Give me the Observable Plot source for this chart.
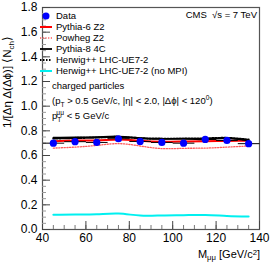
<!DOCTYPE html>
<html><head><meta charset="utf-8">
<script src="https://cdn.jsdelivr.net/npm/d3@7"></script>
<script src="https://cdn.jsdelivr.net/npm/@observablehq/plot@0.6"></script>
<style>
body{margin:0;background:#fff;font-family:"Liberation Sans",Arial,sans-serif;}
#wrap{position:relative;width:271px;height:263px;overflow:hidden;}
.ov{position:absolute;white-space:nowrap;font-size:9.5px;color:#000;line-height:1;}
sub,sup{font-size:70%;line-height:0;}
.lo{font-size:70%;position:relative;top:0.3em;}
.hi{font-size:70%;position:relative;top:-0.45em;}
</style></head>
<body><div id="wrap"></div>
<script>
const mass = [45,55,65,75,85,95,105,115,125,135];
const dataY = [0.700,0.712,0.706,0.736,0.714,0.706,0.700,0.730,0.722,0.696];
const dataErrX = [5,5,5,5,5,5,5,5,5,5];
const pythia6 = [0.716,0.722,0.722,0.730,0.720,0.712,0.714,0.716,0.718,0.720];
const powheg  = [0.660,0.668,0.682,0.696,0.677,0.656,0.658,0.660,0.668,0.677];
const pythia8 = [0.745,0.748,0.750,0.755,0.742,0.735,0.738,0.730,0.740,0.720];
const herwig  = [0.738,0.742,0.746,0.750,0.740,0.736,0.736,0.738,0.742,0.728];
const herwigNoMPI = [0.119,0.121,0.123,0.129,0.113,0.114,0.116,0.117,0.110,0.106];
const xTicks = [40,60,80,100,120,140];
const yTicks = [0,0.2,0.4,0.6,0.8,1,1.2,1.4,1.6,1.8];
const xMinor = d3.range(40,141,5);
const yMinor = d3.range(0,1.801,0.05);

const rows = mass.map((m,i)=>({m, y:dataY[i], ex:dataErrX[i], p6:pythia6[i], pw:powheg[i], p8:pythia8[i], hw:herwig[i], hn:herwigNoMPI[i]}));

const chart = Plot.plot({
  width:271, height:263,
  marginLeft:42, marginRight:12, marginTop:7, marginBottom:34,
  style:{fontFamily:'"Liberation Sans",Arial,sans-serif', background:"#fff"},
  x:{domain:[40,140], label:null},
  y:{domain:[0,1.8], label:null},
  marks:[
    Plot.frame({stroke:"#555", strokeWidth:1.2}),
    Plot.axisX({ticks:xMinor, tickSize:-4, text:null, label:null, stroke:"#777"}),
    Plot.axisX({ticks:xTicks, tickSize:-8, text:null, label:null, stroke:"#444"}),
    Plot.axisX({ticks:xTicks, tickSize:0, tickPadding:4, fontSize:12, label:null}),
    Plot.axisY({ticks:yMinor, tickSize:-4, text:null, label:null, stroke:"#999"}),
    Plot.axisY({ticks:yTicks, tickSize:-8, text:null, label:null, stroke:"#444"}),
    Plot.axisY({ticks:yTicks, tickSize:0, tickPadding:5, fontSize:12, label:null}),
    Plot.line(rows,{x:"m", y:"hn", stroke:"#00f0f0", strokeWidth:2, curve:"natural"}),
    Plot.line(rows,{x:"m", y:"pw", stroke:"#ff5a5a", strokeWidth:1.3, strokeDasharray:"1.2,1.5", curve:"natural"}),
    Plot.line(rows,{x:"m", y:"p6", stroke:"#ff0000", strokeWidth:2, curve:"natural"}),
    Plot.line(rows,{x:"m", y:"p8", stroke:"#000", strokeWidth:1.5, curve:"natural"}),
    Plot.line(rows,{x:"m", y:"hw", stroke:"#000", strokeWidth:2.2, strokeDasharray:"1.5,1.5", curve:"natural"}),
    Plot.link(rows,{x1:d=>d.m-d.ex, x2:d=>d.m+d.ex, y1:"y", y2:"y", stroke:"#000", strokeWidth:1}),
    Plot.dot(rows,{x:"m", y:"y", r:3.6, fill:"#0000ff", stroke:"none"})
  ]
});
const wrap = document.getElementById("wrap");
chart.style.position="absolute"; chart.style.left="0"; chart.style.top="0";
wrap.appendChild(chart);

const legend = [
  {label:"Data", type:"dot", color:"#0000ff"},
  {label:"Pythia-6 Z2", color:"#ff0000", w:2, dash:null},
  {label:"Powheg Z2", color:"#ff5a5a", w:1.3, dash:"1.2,1.5"},
  {label:"Pythia-8 4C", color:"#000", w:1.8, dash:null},
  {label:"Herwig++ LHC-UE7-2", color:"#000", w:2.2, dash:"1.5,1.5"},
  {label:"Herwig++ LHC-UE7-2 (no MPI)", color:"#00f0f0", w:2, dash:null}
];
const ns="http://www.w3.org/2000/svg";
legend.forEach((l,i)=>{
  const yc = 16 + i*11;
  const svg=document.createElementNS(ns,"svg");
  svg.setAttribute("width",14); svg.setAttribute("height",8);
  svg.style.position="absolute"; svg.style.left="39px"; svg.style.top=(yc-4)+"px";
  if(l.type==="dot"){
    const c=document.createElementNS(ns,"circle");
    c.setAttribute("cx",7);c.setAttribute("cy",4);c.setAttribute("r",3.5);c.setAttribute("fill",l.color);
    svg.appendChild(c);
  } else {
    const p=document.createElementNS(ns,"line");
    p.setAttribute("x1",1);p.setAttribute("x2",13);p.setAttribute("y1",4);p.setAttribute("y2",4);
    p.setAttribute("stroke",l.color);p.setAttribute("stroke-width",l.w);
    if(l.dash)p.setAttribute("stroke-dasharray",l.dash);
    svg.appendChild(p);
  }
  wrap.appendChild(svg);
  const t=document.createElement("div");t.className="ov";t.textContent=l.label;
  t.style.left="56px";t.style.top=(yc-5)+"px";
  wrap.appendChild(t);
});
function ov(html,left,top,extra){const d=document.createElement("div");d.className="ov";d.innerHTML=html;d.style.left=left+"px";d.style.top=top+"px";if(extra)Object.assign(d.style,extra);wrap.appendChild(d);return d;}
ov("CMS &nbsp;√s = 7 TeV",0,10,{left:"auto",right:"14px"});
ov("charged particles",52,81);
ov("(p<sub>T</sub> &gt; 0.5 GeV/c, |η| &lt; 2.0, |Δϕ| &lt; 120<sup>0</sup>)",52,96);
ov("p<sub style='position:relative'>T</sub><sup style='margin-left:-5px'>μμ</sup> &lt; 5 GeV/c",52,111);
ov("M<span class='lo'>μμ</span> [GeV/c<span class='hi'>2</span>]",0,249,{left:"auto",right:"11px",fontSize:"11px"});
const yl=ov("1/[Δη Δ(Δϕ)] ⟨N<sub>ch</sub>⟩",0,0,{fontSize:"11.5px",transformOrigin:"0 0",transform:"rotate(-90deg)",left:"2px",top:"128px"});
</script></body></html>
